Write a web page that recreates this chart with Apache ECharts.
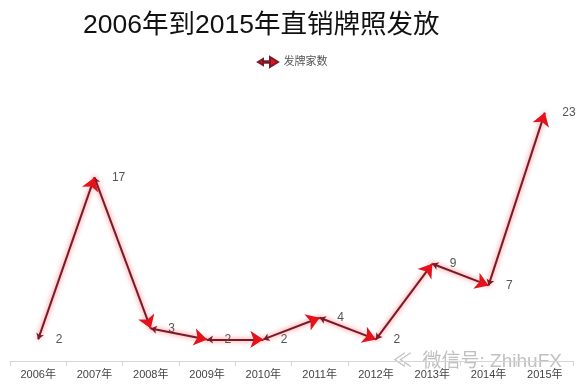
<!DOCTYPE html>
<html><head><meta charset="utf-8">
<script src="https://cdn.jsdelivr.net/npm/echarts@6/dist/echarts.min.js"></script>
<style>html,body{margin:0;padding:0;background:#fff}#c{width:581px;height:392px}</style>
</head><body><div id="c"></div>
<script>
const titleText = '2006年到2015年直销牌照发放';
const seriesName = '发牌家数';
const categories = ['2006年','2007年','2008年','2009年','2010年','2011年','2012年','2013年','2014年','2015年'];
const values = [2, 17, 3, 2, 2, 4, 2, 9, 7, 23];
const watermark = '微信号: ZhihuFX';

const segments = [];
for (let i = 0; i < values.length - 1; i++) {
  segments.push({ coords: [[i, values[i]], [i + 1, values[i + 1]]] });
}
const FONT = '"Liberation Sans", Arial, "Noto Sans CJK SC", sans-serif';

const chart = echarts.init(document.getElementById('c'), null, { renderer: 'canvas' });
chart.setOption({
  animation: false,
  backgroundColor: '#fff',
  title: {
    text: titleText, left: 83, top: 12, padding: 0,
    textStyle: { fontSize: 26.5, fontWeight: 'normal', color: '#111', fontFamily: FONT }
  },
  legend: {
    data: [{ name: seriesName, icon: 'path://M0,5 L5,2 L5,4.2 L12,4.2 L12,0 L20,5 L12,10 L12,5.8 L5,5.8 L5,8 Z' }],
    left: 252, top: 51, itemWidth: 21, itemHeight: 10, itemGap: 6,
    itemStyle: { color: '#e3121b' },
    textStyle: { fontSize: 11, color: '#555', fontFamily: FONT }
  },
  grid: { left: 10, right: 8, top: 91, bottom: 31 },
  xAxis: {
    type: 'category', data: categories, boundaryGap: true,
    axisLine: { lineStyle: { color: '#d6d6d6', width: 1 } },
    axisTick: { show: true, length: 5, lineStyle: { color: '#d6d6d6' } },
    axisLabel: { fontSize: 11, color: '#444', fontFamily: FONT, margin: 8 }
  },
  yAxis: { type: 'value', min: 0, max: 25, show: false, splitLine: { show: false } },
  graphic: [{
    type: 'text', left: 393, top: 352, silent: true,
    style: { text: '≪  ' + watermark, fontSize: 19, fill: 'rgba(165,165,165,0.7)', fontFamily: FONT }
  }],
  series: [
    {
      name: seriesName, type: 'lines', coordinateSystem: 'cartesian2d', silent: true,
      symbol: ['arrow', 'none'], symbolSize: [6, 0],
      lineStyle: { color: '#7a1a28', width: 2, opacity: 1, curveness: 0,
        shadowColor: 'rgba(255,30,30,0.7)', shadowBlur: 5 },
      data: segments, z: 2
    },
    {
      name: seriesName, type: 'lines', coordinateSystem: 'cartesian2d', silent: true,
      symbol: ['none', 'arrow'], symbolSize: [0, 13],
      lineStyle: { color: '#e3121b', width: 0.01, opacity: 1, curveness: 0,
        shadowColor: 'rgba(255,30,30,0.6)', shadowBlur: 4 },
      data: segments, z: 3
    },
    {
      name: 'labels', type: 'line', data: values, silent: true,
      symbol: 'circle', symbolSize: 1,
      itemStyle: { color: 'rgba(0,0,0,0)' }, lineStyle: { color: 'rgba(0,0,0,0)', width: 0 },
      label: { show: true, position: 'right', distance: 17, fontSize: 12, color: '#555', fontFamily: FONT },
      z: 4
    }
  ]
});
</script></body></html>
